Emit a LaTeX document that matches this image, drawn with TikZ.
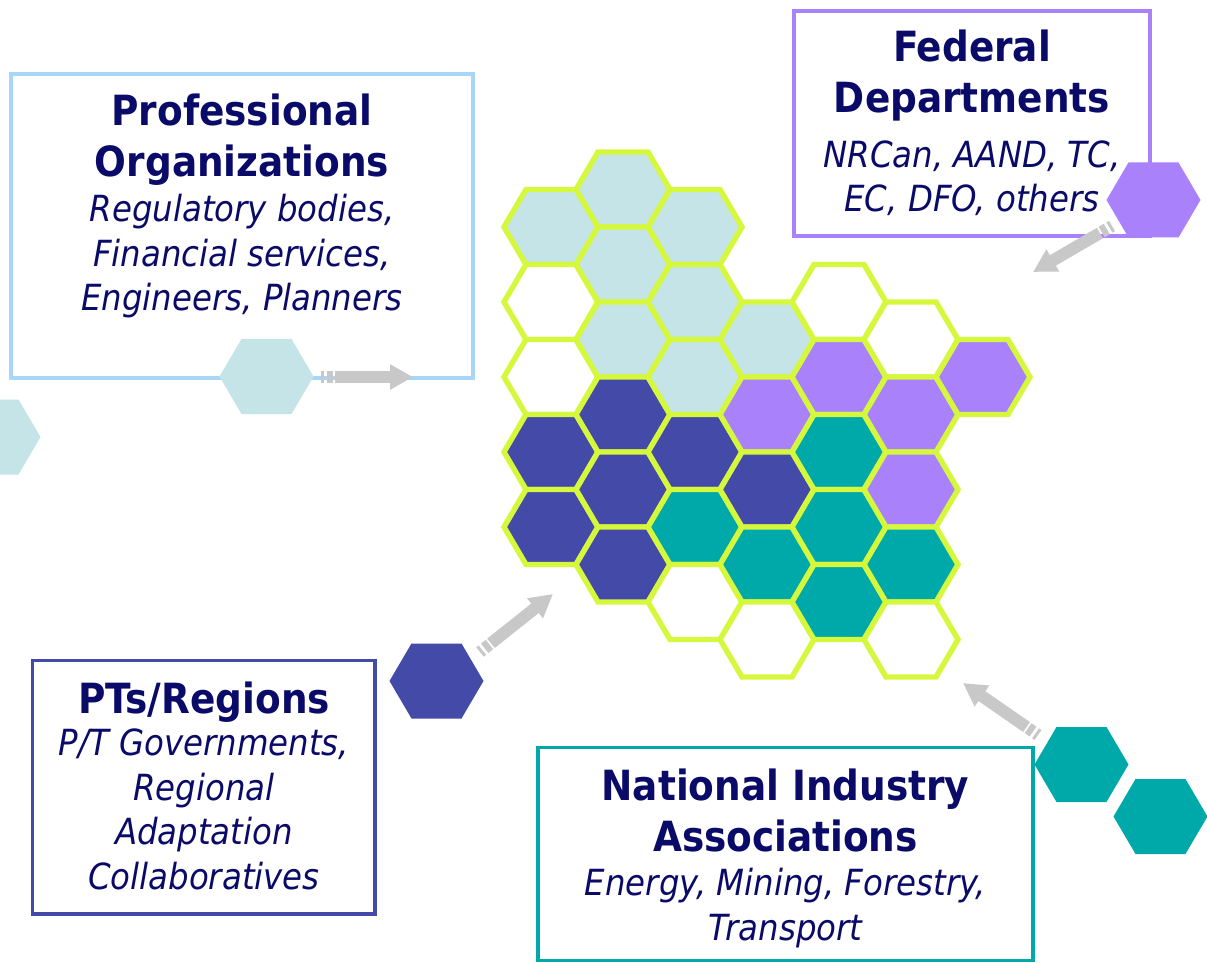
\documentclass[tikz,border=0pt]{standalone}
\usepackage{fontspec}
\setmainfont{DejaVu Sans Condensed}
\usetikzlibrary{arrows.meta}
\definecolor{navy}{RGB}{10,10,105}
\definecolor{gridline}{RGB}{214,248,60}
\definecolor{ice}{RGB}{197,228,232}
\definecolor{indigo}{RGB}{67,74,168}
\definecolor{lilac}{RGB}{169,129,251}
\definecolor{sea}{RGB}{0,169,169}
\definecolor{sky}{RGB}{168,214,248}
\definecolor{arrowgray}{RGB}{200,200,200}
\tikzset{pics/hex/.style={code={\path[pic actions](-47,0)--(-25,-37.5)--(25,-37.5)--(47,0)--(25,37.5)--(-25,37.5)--cycle;}}}
\begin{document}
\begin{tikzpicture}[x=0.5pt,y=-0.5pt,
  cell/.style={draw=gridline,line width=2.7pt},
  box/.style={draw=#1,line width=1.6pt,inner sep=0},
  title/.style={font=\fontsize{20.8}{25.5}\selectfont\bfseries,text=navy,align=center,inner sep=0,anchor=base},
  list/.style={font=\fontsize{18}{22.2}\selectfont\itshape,text=navy,align=center,inner sep=0,anchor=base},
  flow/.style={draw=arrowgray,line width=6pt,-{Triangle[length=11.5pt,width=12pt]},dash pattern=on 1.5pt off 1.5pt on 3pt off 1pt on 200pt off 1pt}]
\clip(0,0)rectangle(1207,963);
\fill[white](0,0)rectangle(1207,963);
\foreach \c/\r/\f in {0/1/ice,0/3/white,0/5/white,0/7/indigo,0/9/indigo,
  1/0/ice,1/2/ice,1/4/ice,1/6/indigo,1/8/indigo,1/10/indigo,
  2/1/ice,2/3/ice,2/5/ice,2/7/indigo,2/9/sea,2/11/white,
  3/4/ice,3/6/lilac,3/8/indigo,3/10/sea,3/12/white,
  4/3/white,4/5/lilac,4/7/sea,4/9/sea,4/11/sea,
  5/4/white,5/6/lilac,5/8/lilac,5/10/sea,5/12/white,
  6/5/lilac}\pic[cell,fill=\f]at({551+72*\c},{189.5+37.5*\r}){hex};
\node[box=sky,minimum width=231pt,minimum height=152pt](prof)at(242,226){};
\node[box=lilac,minimum width=178pt,minimum height=112.5pt](fed)at(972,123.5){};
\node[box=indigo,minimum width=171.25pt,minimum height=126.75pt](pt)at(203.75,787.25){};
\node[box=sea,minimum width=247.5pt,minimum height=106.5pt](ind)at(785.5,854){};
\pic[fill=ice]at(266.5,376.5){hex};\pic[fill=ice]at(-6.5,437){hex};
\pic[fill=lilac]at(1153.5,200){hex};
\pic[fill=indigo]at(436.5,681){hex};
\pic[fill=sea]at(1081.5,764.5){hex};\pic[fill=sea]at(1160.5,816.5){hex};
\node[title](prof-t)at(242,176.7){Professional\\Organizations};
\node[list](prof-l)at(242,310.7){Regulatory bodies,\\Financial services,\\Engineers, Planners};
\node[title](fed-t)at(972,113){Federal\\Departments};
\node[list](fed-l)at(972,211.7){NRCan, AAND, TC,\\EC, DFO, others};
\node[title](pt-t)at(204,713.3){PTs/Regions};
\node[list](pt-l)at(204,889){P/T Governments,\\Regional\\Adaptation\\Collaboratives};
\node[title](ind-t)at(785.5,851.7){National Industry\\Associations};
\node[list](ind-l)at(785.5,940){Energy, Mining, Forestry,\\Transport};
\coordinate(prof-a)at(321,377);\coordinate(prof-b)at(413,377);
\coordinate(fed-a)at(1112,226);\coordinate(fed-b)at(1033,272);
\coordinate(pt-a)at(480,652);\coordinate(pt-b)at(553,594);
\coordinate(ind-a)at(1038,735);\coordinate(ind-b)at(963,683);
\foreach \s in {prof,fed,pt,ind}\draw[flow](\s-a)--(\s-b);
\end{tikzpicture}
\end{document}
